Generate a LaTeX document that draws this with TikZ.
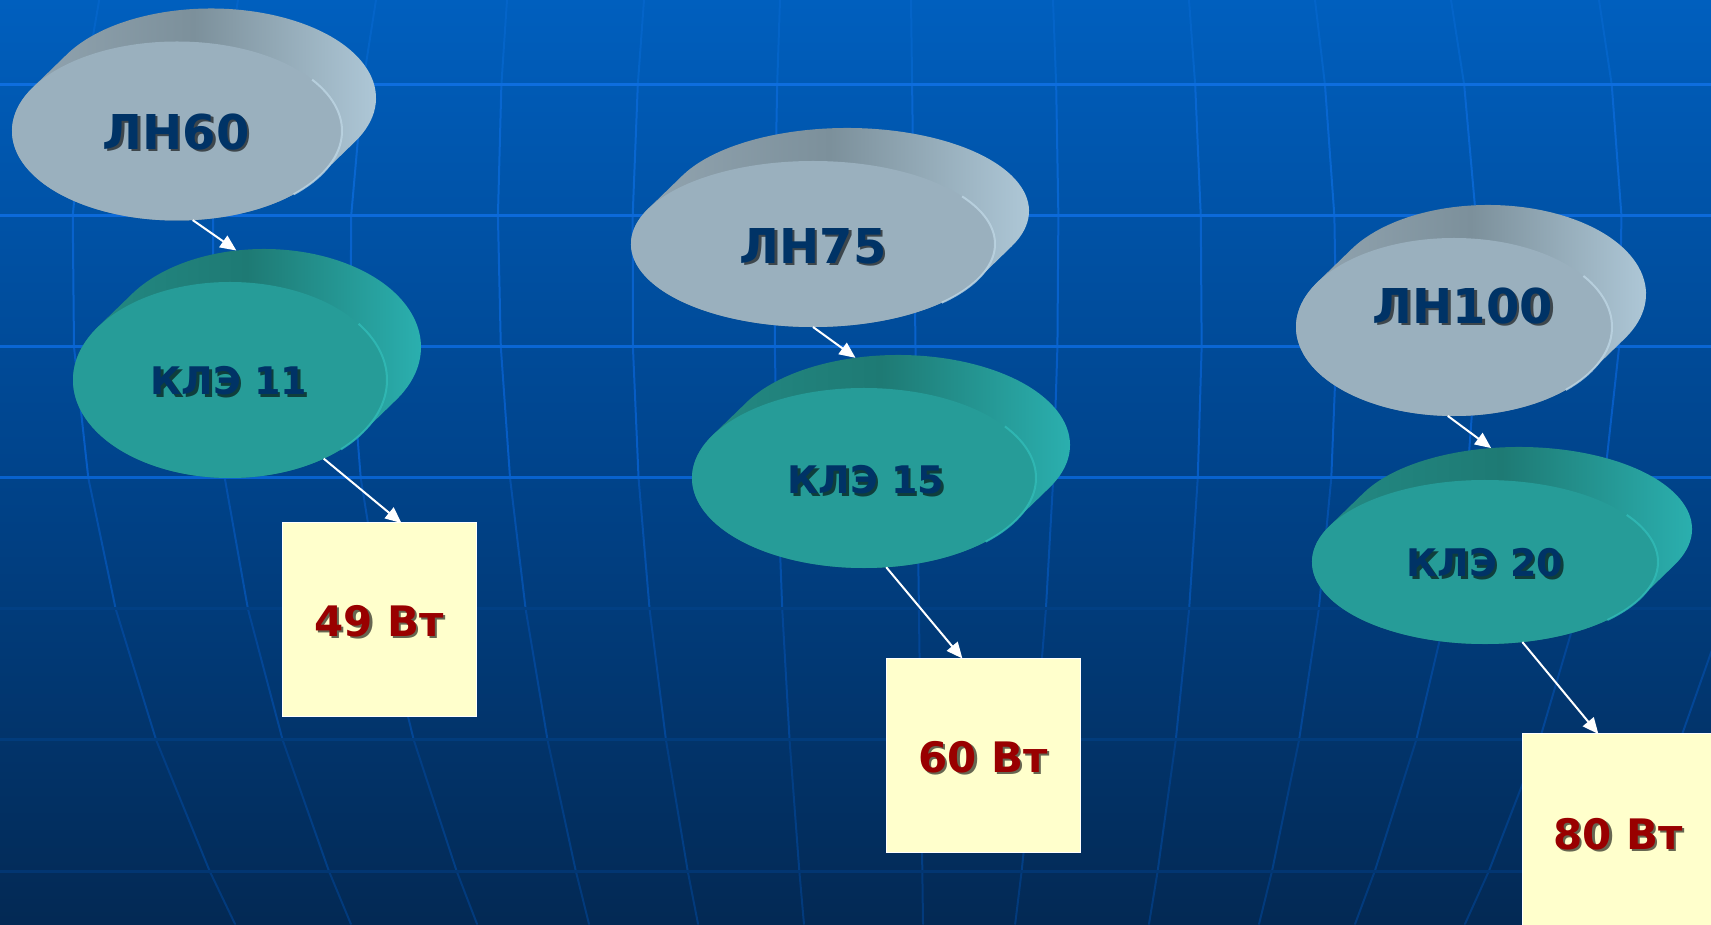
\documentclass[tikz,border=0pt]{standalone}
\usepackage{fontspec}
\setmainfont{DejaVu Sans}
\usetikzlibrary{shapes.geometric,arrows.meta,calc}

% background
\definecolor{bgTop}{RGB}{0,95,190}
\definecolor{bgMid}{RGB}{0,68,140}
\definecolor{bgBot}{RGB}{3,41,84}
% grid bands (meridian segments, top to bottom)
\definecolor{band0}{RGB}{4,100,200}
\definecolor{band1}{RGB}{8,102,208}
\definecolor{band2}{RGB}{8,98,204}
\definecolor{band3}{RGB}{6,92,196}
\definecolor{band4}{RGB}{4,80,170}
\definecolor{band5}{RGB}{3,70,150}
\definecolor{band6}{RGB}{2,62,132}
\definecolor{band7}{RGB}{2,58,124}
% parallels
\definecolor{hl1}{RGB}{14,110,222}
\definecolor{hl2}{RGB}{12,106,218}
\definecolor{hl3}{RGB}{10,102,212}
\definecolor{hl4}{RGB}{8,98,206}
\definecolor{hl5}{RGB}{2,64,132}
\definecolor{hl6}{RGB}{2,60,124}
\definecolor{hl7}{RGB}{2,54,114}
% disks
\definecolor{greyFace}{RGB}{154,176,190}
\definecolor{greyL}{RGB}{150,168,180}
\definecolor{greyM}{RGB}{124,144,155}
\definecolor{greyR}{RGB}{180,206,222}
\definecolor{greyRim}{RGB}{190,214,228}
\definecolor{tealFace}{RGB}{38,156,152}
\definecolor{tealL}{RGB}{36,140,134}
\definecolor{tealM}{RGB}{30,122,116}
\definecolor{tealR}{RGB}{44,182,182}
\definecolor{tealRim}{RGB}{50,188,184}
% text and cards
\definecolor{navy}{RGB}{0,51,102}
\definecolor{wine}{RGB}{153,0,0}
\definecolor{cream}{RGB}{255,255,204}

\def\dskx{34}
\def\dsky{33}

% a tilted disk: #1 name, #2 cx, #3 cy, #4 rx, #5 ry, #6 palette
\newcommand\drawdisk[6]{%
  \pgfmathsetmacro\tg{atan(-(#5/#4)*(\dskx/\dsky))}%
  \pgfmathsetmacro\tgb{\tg+180}%
  \pgfmathsetmacro\tgc{\tg+360}%
  \node[faceshape, minimum width=2*#4, minimum height=2*#5] (#1b) at (#2+\dskx,#3+\dsky) {};%
  \shade[left color=#6L, right color=#6R, middle color=#6M]
    ($(#2,#3)+(\tg:#4 and #5)$) -- ++(\dskx,\dsky)
    arc[start angle=\tg, end angle=\tgb, x radius=#4, y radius=#5]
    -- ++(-\dskx,-\dsky)
    arc[start angle=\tgb, end angle=\tgc, x radius=#4, y radius=#5] -- cycle;%
  \node[faceshape, fill=#6Face, minimum width=2*#4, minimum height=2*#5] (#1) at (#2,#3) {};%
  \draw[#6Rim, line width=2pt, opacity=0.8] ($(#2,#3)+(35:#4 and #5)$)
    arc[start angle=35, end angle=-45, x radius=#4, y radius=#5];%
}

% text with a drop shadow: #1 name, #2 style, #3 position, #4 text
\newcommand\shadowedlabel[4]{%
  \node[#2, text=black, opacity=0.6] at ($#3+(2.5,-2.5)$) {#4};%
  \node[#2] (#1) at #3 {#4};%
}

\begin{document}
\begin{tikzpicture}[x=1pt,y=1pt,
  faceshape/.style={ellipse, inner sep=0pt, outer sep=0pt},
  meridian/.style={line width=2pt, line cap=round},
  parallel/.style={line width=3pt},
  card/.style={rectangle, fill=cream, draw=white, line width=1pt,
    minimum width=194pt, minimum height=194pt, inner sep=0pt, outer sep=0pt},
  lampname/.style={font=\fontsize{48}{50}\selectfont\bfseries, text=navy, inner sep=0pt},
  clename/.style={font=\fontsize{38}{40}\selectfont\bfseries, text=navy, inner sep=0pt},
  wattage/.style={font=\fontsize{42}{44}\selectfont\bfseries, text=wine, inner sep=0pt},
  link/.style={draw=white, line width=2pt, -{Triangle[length=16pt,width=14pt]}}
]
\useasboundingbox (0,0) rectangle (1711,924);
\clip (0,0) rectangle (1711,924);

% backdrop
\shade[top color=bgTop, bottom color=bgBot, middle color=bgMid] (0,0) rectangle (1711,924);

% curved meridians, one straight piece per band
\foreach \a/\b/\c in {99.2/-20.47/3.806, 238/-18.83/3.36, 376/-18.34/3.168,
    507/-8.19/1.847, 644/-8.63/1.567, 780/-3.94/0.707, 911/1.30/0,
    1053/4.5/-0.93, 1189/8.44/-1.382, 1315/13.55/-2.122, 1451/18.15/-3.088,
    1599/18.0/-3.518, 1761.5/18.6/-4.0} {
  \foreach \ya/\yb/\bc in {0/85/band0, 85/216/band1, 216/347/band2, 347/478/band3,
      478/609/band4, 609/740/band5, 740/871/band6, 871/924/band7} {
    \pgfmathsetmacro\ua{\ya/100}
    \pgfmathsetmacro\ub{\yb/100}
    \pgfmathsetmacro\xa{\a+(\b)*\ua+(\c)*\ua*\ua}
    \pgfmathsetmacro\xb{\a+(\b)*\ub+(\c)*\ub*\ub}
    \draw[meridian, draw=\bc] (\xa,924-\ya) -- (\xb,924-\yb);
  }
}

% parallels
\foreach \y/\hc in {839/hl1, 708/hl2, 577/hl3, 446/hl4, 315/hl5, 184/hl6, 53/hl7}
  \draw[parallel, draw=\hc] (0,\y) -- (1711,\y);

% disks
\drawdisk{ln60}{177}{793}{165}{89.5}{grey}
\drawdisk{kle11}{230}{544}{157}{98}{teal}
\drawdisk{ln75}{813}{680}{182}{83}{grey}
\drawdisk{kle15}{864}{446}{172}{90}{teal}
\drawdisk{ln100}{1454}{597}{158}{89}{grey}
\drawdisk{kle20}{1485}{362}{173}{82}{teal}

\shadowedlabel{t60}{lampname}{(176,792)}{ЛН60}
\shadowedlabel{t75}{lampname}{(813,678)}{ЛН75}
\shadowedlabel{t100}{lampname}{(1463,618)}{ЛН100}
\shadowedlabel{c11}{clename}{(229,543)}{КЛЭ 11}
\shadowedlabel{c15}{clename}{(866,444)}{КЛЭ 15}
\shadowedlabel{c20}{clename}{(1485,361)}{КЛЭ 20}

% power cards
\node[card] (b49) at (379,304) {};
\node[card] (b60) at (983,168.5) {};
\node[card] (b80) at (1619,93) {};
\shadowedlabel{w49}{wattage}{(379,303)}{49 Вт}
\shadowedlabel{w60}{wattage}{(983,167)}{60 Вт}
\shadowedlabel{w80}{wattage}{(1618,90)}{80 Вт}

% links
\draw[link] (ln60.-80) -- (kle11b.106);
\draw[link] (kle11.-40) -- (b49.77);
\draw[link] (ln75.-90) -- (kle15b.116);
\draw[link] (kle15.-76) -- (b60.102);
\draw[link] (ln100.-94) -- (kle20b.109);
\draw[link] (kle20.-65) -- (b80.102);
\end{tikzpicture}
\end{document}
